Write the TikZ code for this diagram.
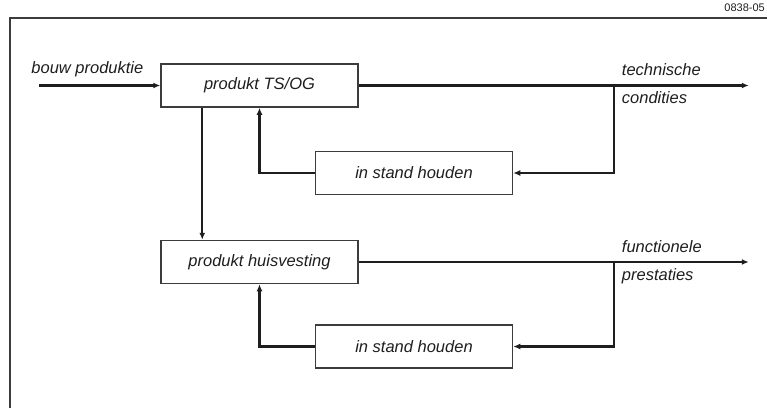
\documentclass[tikz,border=0pt]{standalone}
\usepackage{fontspec}
\setmainfont{Liberation Sans}
\usepackage{tikz}
\usetikzlibrary{arrows.meta,positioning}
\definecolor{f05ink}{HTML}{1E1E1E}
\definecolor{f05line}{HTML}{3C3C3C}
\tikzset{
  blok/.style = {rectangle, draw=f05line, line width=1.5pt, minimum width=197pt,
                 minimum height=43pt, inner sep=2pt, text=f05ink,
                 font=\fontsize{16.5}{19}\selectfont\itshape},
  pijl/.style = {-{Latex[length=7pt,width=6pt]}, line width=2.1pt, draw=f05ink},
  lbl/.style  = {anchor=west, inner sep=0pt, text=f05ink,
                 font=\fontsize{16.5}{19}\selectfont\itshape},
}

\begin{document}
\begin{tikzpicture}[x=1pt,y=1pt]
\useasboundingbox (0,0) rectangle (767,408);

% --- frame
\draw[f05line, line width=1.4pt] (10,0) -- (10,390) -- (767,390);
\node[anchor=east, inner sep=0pt, text=f05ink, font=\fontsize{11}{13}\selectfont] (nr) at (765,400) {0838-05};

% --- blokken
\node[blok] (ts) at (259.5,322.5) {produkt TS/OG};
\node[blok, below right=43pt and -44pt of ts] (ish1) {in stand houden};
\node[blok, below=132pt of ts] (hv) {produkt huisvesting};
\node[blok, below right=40pt and -44pt of hv] (ish2) {in stand houden};

% --- hulppunten
\coordinate[left=121pt of ts.west] (in);
\coordinate[right=255pt of ts.east] (j1);
\coordinate[right=390pt of ts.east] (uit1);
\coordinate[right=255pt of hv.east] (j2);
\coordinate[right=390pt of hv.east] (uit2);
\coordinate[right=42pt of ts.south west] (neer);

% --- pijlen
\draw[pijl] (in) -- (ts);
\draw[pijl] (ts) -- (uit1);
\draw[pijl] (j1) |- (ish1);
\draw[pijl] (ish1) -| (ts);
\draw[pijl] (neer) -- (neer |- hv.north);
\draw[pijl] (hv) -- (uit2);
\draw[pijl] (j2) |- (ish2);
\draw[pijl] (ish2) -| (hv);

% --- labels
\node[lbl] (bp) at ([xshift=-8pt,yshift=16pt]in) {bouw produktie};
\node[lbl] (tc1) at ([xshift=8pt,yshift=16pt]j1) {technische};
\node[lbl] (tc2) at ([xshift=8pt,yshift=-12pt]j1) {condities};
\node[lbl] (fp1) at ([xshift=8pt,yshift=15pt]j2) {functionele};
\node[lbl] (fp2) at ([xshift=8pt,yshift=-14pt]j2) {prestaties};

\end{tikzpicture}
\end{document}
